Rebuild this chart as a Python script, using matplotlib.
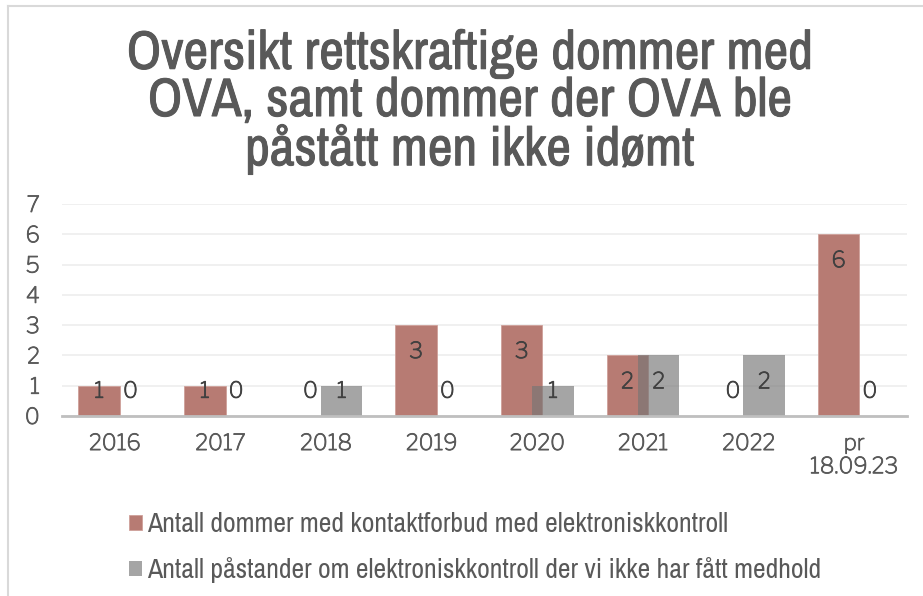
import matplotlib
matplotlib.use("Agg")
import matplotlib.pyplot as plt
import matplotlib.patheffects as pe
import numpy as np
from matplotlib.lines import Line2D

categories = ["2016", "2017", "2018", "2019", "2020", "2021", "2022", "pr\n18.09.23"]
series1_name = "Antall dommer med kontaktforbud med elektroniskkontroll"
series2_name = "Antall påstander om elektroniskkontroll der vi ikke har fått medhold"
series1 = [1, 1, 0, 3, 3, 2, 0, 6]
series2 = [0, 0, 1, 0, 1, 2, 2, 0]
title = "Oversikt rettskraftige dommer med\nOVA, samt dommer der OVA ble\npåstått men ikke idømt"

W, H = 923, 596
fig = plt.figure(figsize=(W / 100, H / 100), dpi=100)
narrow = ["Archivo Narrow", "DejaVu Sans"]
franklin = ["Libre Franklin", "DejaVu Sans"]
textgray = "#595959"
thick = [pe.withStroke(linewidth=0.6, foreground=textgray)]

ax = fig.add_axes([62 / W, 1 - 416 / H, (907 - 62) / W, (416 - 204) / H])
x = np.arange(len(categories))
bw = 0.393
off = 0.148
red = "#B77B73"
b1 = ax.bar(x - off, series1, bw, color=red, zorder=2, edgecolor="#CFA09A", linewidth=0.6)
b2 = ax.bar(x + off, series2, bw, color="#757575", alpha=0.65, zorder=3, linewidth=0)

ax.set_xlim(-0.5, len(categories) - 0.5)
ax.set_ylim(0, 7)
ax.set_yticks(range(0, 8))
ax.set_xticks(x)
ax.set_xticklabels(categories)
ax.tick_params(axis="both", length=0, labelsize=16, labelcolor=textgray)
ax.tick_params(axis="x", pad=13)
ax.tick_params(axis="y", pad=16)
for lab in ax.get_xticklabels() + ax.get_yticklabels():
    lab.set_family(franklin)
    lab.set_path_effects(thick)
ax.grid(axis="y", color="#EDEDED", linewidth=1.2, zorder=0)
ax.set_axisbelow(True)
for s in ["top", "right", "left"]:
    ax.spines[s].set_visible(False)
ax.spines["bottom"].set_color("#BFBFBF")
ax.spines["bottom"].set_linewidth(2)
ax.spines["bottom"].set_zorder(4)

for xs, vals in ((x - off, series1), (x + off, series2)):
    for xi, v in zip(xs, vals):
        ly = max(v - 0.89, 0.8)
        ax.text(xi, ly, str(v), ha="center", va="center", fontsize=16, color="#404040",
                family=franklin, zorder=5,
                path_effects=[pe.withStroke(linewidth=0.6, foreground="#404040")])

fig.text(470 / W, 1 - 102 / H, title, ha="center", va="center", fontsize=39,
         color=textgray, family=narrow, linespacing=0.98,
         path_effects=[pe.withStroke(linewidth=0.7, foreground=textgray)])

leg = fig.legend([b1, b2], [series1_name, series2_name], loc="upper left",
                 bbox_to_anchor=(104 / W, 1 - 487 / H), frameon=False,
                 prop={"family": narrow, "size": 20}, labelcolor=textgray,
                 handlelength=0.45, handleheight=0.45, handletextpad=0.2, labelspacing=0.73)

fig.add_artist(Line2D([8 / W, 8 / W], [0, 1 - 6 / H], transform=fig.transFigure, color="#D9D9D9", lw=1.5))
fig.add_artist(Line2D([8 / W, 1], [1 - 6 / H, 1 - 6 / H], transform=fig.transFigure, color="#D9D9D9", lw=1.5))

fig.savefig("out.png", dpi=100)
